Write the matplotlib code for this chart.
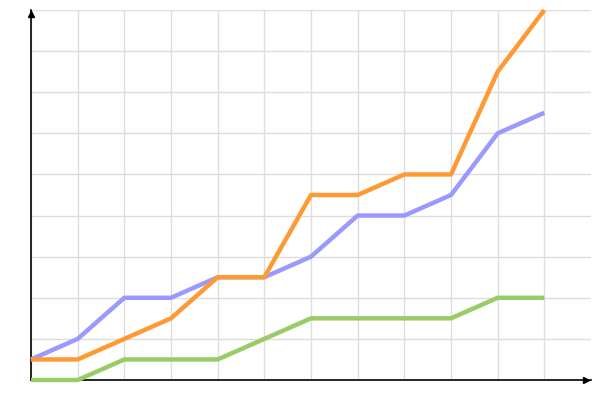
import matplotlib
matplotlib.use("Agg")
import matplotlib.pyplot as plt

x = list(range(12))
blue = [1, 2, 4, 4, 5, 5, 6, 8, 8, 9, 12, 13]
orange = [1, 1, 2, 3, 5, 5, 9, 9, 10, 10, 15, 18]
green = [0, 0, 1, 1, 1, 2, 3, 3, 3, 3, 4, 4]

fig = plt.figure(figsize=(6, 4), dpi=100)
ax = fig.add_axes([31/600, 20/400, 560/600, 370/400])
ax.set_xlim(0, 12)
ax.set_ylim(0, 18)
ax.set_xticks(range(12))
ax.set_yticks(range(0, 19, 2))
ax.grid(True, color="#dddddd", linewidth=1)
ax.set_axisbelow(True)
ax.tick_params(length=0, labelbottom=False, labelleft=False)
for s in ["top", "right"]:
    ax.spines[s].set_visible(False)
for s in ["left", "bottom"]:
    ax.spines[s].set_linewidth(1.2)

ax.plot(x, blue, color="#9999ff", lw=3.2, solid_capstyle="butt", clip_on=False, zorder=3)
ax.plot(x, orange, color="#ff9933", lw=3.2, solid_capstyle="butt", clip_on=False, zorder=4)
ax.plot(x, green, color="#99cc66", lw=3.2, solid_capstyle="butt", clip_on=False, zorder=5)

ax.plot(0, 0.99, marker="^", color="black", markersize=4, transform=ax.transAxes, clip_on=False)
ax.plot(0.991, 0, marker=">", color="black", markersize=4, transform=ax.transAxes, clip_on=False)

fig.savefig("out.png", dpi=100)
